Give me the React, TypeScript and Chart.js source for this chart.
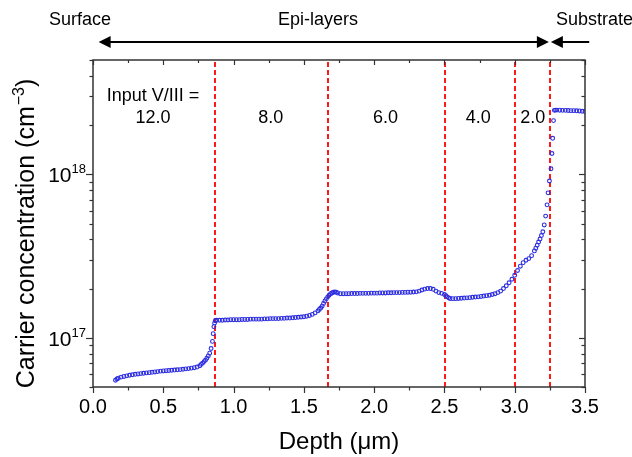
import React, { useEffect, useRef } from "react";
import { Chart, registerables } from "chart.js";

Chart.register(...registerables);

// ---- data (depth in µm, carrier concentration in cm^-3) ----
const d12 = [0.16, 0.17, 0.18, 0.2, 0.22, 0.24, 0.26, 0.28, 0.3, 0.32, 0.34, 0.36, 0.38, 0.4, 0.42, 0.44, 0.46, 0.48, 0.5, 0.52, 0.54, 0.56, 0.58, 0.6, 0.62, 0.64, 0.66, 0.68, 0.7, 0.72, 0.74, 0.76, 0.77, 0.78, 0.79, 0.8, 0.81, 0.82, 0.83, 0.84, 0.85, 0.855, 0.86, 0.865];
const n12 = [5.5e16, 5.6e16, 5.66e16, 5.75e16, 5.8e16, 5.85e16, 5.9e16, 5.94e16, 5.98e16, 6.01e16, 6.04e16, 6.07e16, 6.1e16, 6.12e16, 6.15e16, 6.18e16, 6.21e16, 6.25e16, 6.27e16, 6.29e16, 6.31e16, 6.33e16, 6.35e16, 6.37e16, 6.39e16, 6.42e16, 6.45e16, 6.48e16, 6.52e16, 6.56e16, 6.62e16, 6.75e16, 6.88e16, 7.0e16, 7.15e16, 7.3e16, 7.5e16, 7.75e16, 8.05e16, 8.6e16, 9.5e16, 1.06e17, 1.17e17, 1.23e17];

const d8 = [0.87, 0.88, 0.9, 0.92, 0.94, 0.96, 0.98, 1.0, 1.02, 1.04, 1.06, 1.08, 1.1, 1.12, 1.14, 1.16, 1.18, 1.2, 1.22, 1.24, 1.26, 1.28, 1.3, 1.32, 1.34, 1.36, 1.38, 1.4, 1.42, 1.44, 1.46, 1.48, 1.5, 1.52, 1.54, 1.56, 1.58, 1.6, 1.61, 1.62, 1.63, 1.64, 1.65, 1.66];
const n8 = [1.27e17, 1.28e17, 1.28e17, 1.28e17, 1.285e17, 1.285e17, 1.29e17, 1.29e17, 1.29e17, 1.29e17, 1.295e17, 1.295e17, 1.295e17, 1.3e17, 1.3e17, 1.3e17, 1.3e17, 1.3e17, 1.305e17, 1.305e17, 1.31e17, 1.31e17, 1.31e17, 1.31e17, 1.315e17, 1.315e17, 1.32e17, 1.32e17, 1.325e17, 1.33e17, 1.335e17, 1.34e17, 1.345e17, 1.355e17, 1.37e17, 1.39e17, 1.42e17, 1.46e17, 1.49e17, 1.52e17, 1.56e17, 1.62e17, 1.68e17, 1.73e17];

const d6 = [1.67, 1.68, 1.69, 1.7, 1.71, 1.72, 1.73, 1.74, 1.76, 1.78, 1.8, 1.82, 1.84, 1.86, 1.88, 1.9, 1.92, 1.94, 1.96, 1.98, 2.0, 2.02, 2.04, 2.06, 2.08, 2.1, 2.12, 2.14, 2.16, 2.18, 2.2, 2.22, 2.24, 2.26, 2.28, 2.3, 2.32, 2.34, 2.36, 2.38, 2.4, 2.42, 2.44, 2.46, 2.48];
const n6 = [1.78e17, 1.82e17, 1.86e17, 1.88e17, 1.9e17, 1.91e17, 1.9e17, 1.88e17, 1.86e17, 1.86e17, 1.86e17, 1.86e17, 1.865e17, 1.865e17, 1.865e17, 1.87e17, 1.87e17, 1.87e17, 1.87e17, 1.875e17, 1.875e17, 1.875e17, 1.88e17, 1.88e17, 1.88e17, 1.885e17, 1.885e17, 1.89e17, 1.89e17, 1.89e17, 1.895e17, 1.895e17, 1.9e17, 1.9e17, 1.905e17, 1.91e17, 1.93e17, 1.96e17, 1.985e17, 2.0e17, 2.0e17, 1.98e17, 1.93e17, 1.89e17, 1.87e17];

const d4 = [2.5, 2.51, 2.52, 2.53, 2.54, 2.56, 2.58, 2.6, 2.62, 2.64, 2.66, 2.68, 2.7, 2.72, 2.74, 2.76, 2.78, 2.8, 2.82, 2.84, 2.86, 2.88, 2.9, 2.92, 2.94, 2.96, 2.98];
const n4 = [1.84e17, 1.81e17, 1.78e17, 1.755e17, 1.74e17, 1.735e17, 1.735e17, 1.74e17, 1.745e17, 1.75e17, 1.755e17, 1.76e17, 1.77e17, 1.775e17, 1.78e17, 1.79e17, 1.8e17, 1.81e17, 1.82e17, 1.84e17, 1.86e17, 1.89e17, 1.93e17, 2.0e17, 2.08e17, 2.17e17, 2.28e17];

const d2 = [3.0, 3.02, 3.04, 3.06, 3.08, 3.1, 3.12, 3.14, 3.15, 3.16, 3.17, 3.18, 3.19, 3.2, 3.21, 3.22, 3.23, 3.237, 3.247];
const n2 = [2.41e17, 2.58e17, 2.74e17, 2.88e17, 2.98e17, 3.05e17, 3.18e17, 3.4e17, 3.53e17, 3.68e17, 3.85e17, 4.02e17, 4.22e17, 4.45e17, 4.9e17, 5.55e17, 6.5e17, 7.7e17, 9.1e17];

const dSub = [3.258, 3.265, 3.27, 3.276, 3.282, 3.29, 3.3, 3.32, 3.34, 3.36, 3.38, 3.4, 3.42, 3.44, 3.46, 3.48, 3.5];
const nSub = [1.08e18, 1.34e18, 1.66e18, 2.13e18, 2.46e18, 2.47e18, 2.47e18, 2.465e18, 2.46e18, 2.46e18, 2.455e18, 2.45e18, 2.45e18, 2.445e18, 2.44e18, 2.43e18, 2.42e18];

// layer boundaries (µm) and V/III labels
const layerEdges = [0.868, 1.672, 2.503, 3.0, 3.25];
const ratioLabels = ["12.0", "8.0", "6.0", "4.0", "2.0"];
const ratioLabelX = [0.427, 1.265, 2.08, 2.74, 3.128];
const ratioLabelY = 2.2e18;
const inputLabel = "Input V/III =";
const inputLabelY = 3.0e18;

// axis ranges / ticks
const xMin = 0;
const xMax = 3.5;
const xMajorStep = 0.5;
const xMinorStep = 0.25;
const yMin = 5e16;
const yMax = 5e18;
const yDecades = [1e17, 1e18];
const yDecadeExp = ["17", "18"];
const yMinorTicks = [5e16, 6e16, 7e16, 8e16, 9e16, 2e17, 3e17, 4e17, 5e17, 6e17, 7e17, 8e17, 9e17, 2e18, 3e18, 4e18, 5e18];

// top annotation
const regionNames = ["Surface", "Epi-layers", "Substrate"];
const arrowLeft = 0.04;
const arrowMeet = 3.25;
const arrowRight = 3.53;

const FONT = '"Liberation Sans", Arial, Helvetica, sans-serif';
const BLUE = "rgb(45,45,225)";
const RED = "rgb(255,25,25)";
const AXIS = "#333";

const decor = {
  id: "decor",
  beforeDatasetsDraw(chart: any) {
    const { ctx, chartArea: a, scales } = chart;
    const x = scales.x;
    ctx.save();
    ctx.strokeStyle = RED;
    ctx.lineWidth = 2;
    ctx.setLineDash([5, 3]);
    for (const e of layerEdges) {
      const px = Math.round(x.getPixelForValue(e));
      ctx.beginPath();
      ctx.moveTo(px, a.top + 2);
      ctx.lineTo(px, a.bottom);
      ctx.stroke();
    }
    ctx.restore();
  },
  afterDraw(chart: any) {
    const { ctx, chartArea: a, scales } = chart;
    const x = scales.x;
    const y = scales.y;
    ctx.save();

    // frame
    ctx.strokeStyle = AXIS;
    ctx.lineWidth = 1.5;
    ctx.strokeRect(a.left, a.top, a.right - a.left, a.bottom - a.top);

    const line = (x1: number, y1: number, x2: number, y2: number) => {
      ctx.beginPath();
      ctx.moveTo(x1, y1);
      ctx.lineTo(x2, y2);
      ctx.stroke();
    };

    // x ticks (bottom outward, top inward)
    ctx.lineWidth = 1.2;
    const nX = Math.round((xMax - xMin) / xMinorStep);
    for (let i = 0; i <= nX; i++) {
      const v = xMin + i * xMinorStep;
      const px = Math.round(x.getPixelForValue(v)) + 0.5;
      const major = Math.abs(v / xMajorStep - Math.round(v / xMajorStep)) < 1e-6;
      line(px, a.bottom, px, a.bottom + (major ? 6 : 3.5));
      line(px, a.top, px, a.top + (major ? 5 : 3));
    }
    // y ticks (left outward, right inward)
    for (const v of yDecades) {
      const py = Math.round(y.getPixelForValue(v)) + 0.5;
      line(a.left - 7, py, a.left, py);
      line(a.right - 6, py, a.right, py);
    }
    for (const v of yMinorTicks) {
      const py = Math.round(y.getPixelForValue(v)) + 0.5;
      line(a.left - 3.5, py, a.left, py);
      line(a.right - 3.5, py, a.right, py);
    }

    // y tick labels 10^n
    ctx.fillStyle = "#000";
    ctx.textBaseline = "alphabetic";
    ctx.textAlign = "left";
    yDecades.forEach((v, i) => {
      const py = y.getPixelForValue(v);
      ctx.font = `13px ${FONT}`;
      const wSup = ctx.measureText(yDecadeExp[i]).width;
      ctx.font = `21px ${FONT}`;
      const wBase = ctx.measureText("10").width;
      const right = a.left - 7;
      ctx.fillText("10", right - wSup - wBase, py + 8);
      ctx.font = `13px ${FONT}`;
      ctx.fillText(yDecadeExp[i], right - wSup, py - 1);
    });

    // y title with superscript
    {
      const main = "Carrier concentration (cm";
      const sup = "\u22123";
      const tail = ")";
      const fMain = `25px ${FONT}`;
      const fSup = `16px ${FONT}`;
      ctx.font = fMain;
      const w1 = ctx.measureText(main).width;
      const w3 = ctx.measureText(tail).width;
      ctx.font = fSup;
      const w2 = ctx.measureText(sup).width;
      const total = w1 + w2 + w3;
      ctx.save();
      ctx.translate(34, 234);
      ctx.rotate(-Math.PI / 2);
      ctx.textAlign = "left";
      ctx.textBaseline = "alphabetic";
      ctx.font = fMain;
      ctx.fillText(main, -total / 2, 0);
      ctx.font = fSup;
      ctx.fillText(sup, -total / 2 + w1 + 1, -10);
      ctx.font = fMain;
      ctx.fillText(tail, -total / 2 + w1 + w2 + 1, 0);
      ctx.restore();
    }

    // in-plot labels
    ctx.font = `18px ${FONT}`;
    ctx.textAlign = "center";
    ctx.textBaseline = "middle";
    ctx.fillText(inputLabel, x.getPixelForValue(ratioLabelX[0]), y.getPixelForValue(inputLabelY));
    ratioLabels.forEach((t, i) => {
      ctx.fillText(t, x.getPixelForValue(ratioLabelX[i]), y.getPixelForValue(ratioLabelY));
    });

    // top annotation
    ctx.font = `18px ${FONT}`;
    ctx.textBaseline = "middle";
    ctx.textAlign = "center";
    ctx.fillText(regionNames[0], 80, 20);
    ctx.fillText(regionNames[1], 318, 20);
    ctx.textAlign = "left";
    ctx.fillText(regionNames[2], 556, 20);

    const ay = 42;
    const xl = x.getPixelForValue(arrowLeft);
    const xm = x.getPixelForValue(arrowMeet);
    const xr = x.getPixelForValue(arrowRight);
    ctx.strokeStyle = "#000";
    ctx.fillStyle = "#000";
    ctx.lineWidth = 2;
    line(xl + 8, ay, xm - 8, ay);
    line(xm + 8, ay, xr, ay);
    const head = (tipX: number, dir: number) => {
      ctx.beginPath();
      ctx.moveTo(tipX, ay);
      ctx.lineTo(tipX + dir * 12, ay - 6);
      ctx.lineTo(tipX + dir * 12, ay + 6);
      ctx.closePath();
      ctx.fill();
    };
    head(xl, 1);
    head(xm - 1, -1);
    head(xm + 1, 1);

    ctx.restore();
  },
};

export default function App() {
  const ref = useRef<HTMLCanvasElement>(null);
  useEffect(() => {
    document.body.style.margin = "0";
    const canvas = ref.current;
    if (!canvas) return;
    const depth = [...d12, ...d8, ...d6, ...d4, ...d2, ...dSub];
    const conc = [...n12, ...n8, ...n6, ...n4, ...n2, ...nSub];
    const points = depth.map((d, i) => ({ x: d, y: conc[i] }));

    const chart = new Chart(canvas, {
      type: "scatter",
      data: {
        datasets: [
          {
            data: points,
            showLine: false,
            pointStyle: "circle",
            pointRadius: 1.9,
            pointHoverRadius: 1.9,
            pointBorderWidth: 1.1,
            pointBorderColor: BLUE,
            pointBackgroundColor: "rgba(0,0,0,0)",
          },
        ],
      },
      options: {
        responsive: false,
        animation: false,
        devicePixelRatio: 1,
        events: [],
        layout: { padding: { left: 0, right: 47, top: 60, bottom: 0 } },
        plugins: { legend: { display: false }, tooltip: { enabled: false } },
        scales: {
          x: {
            type: "linear",
            position: "bottom",
            min: xMin,
            max: xMax,
            afterFit(s: any) {
              s.height = 70;
            },
            ticks: {
              stepSize: xMajorStep,
              callback: (v: any) => Number(v).toFixed(1),
              color: "#000",
              font: { family: FONT, size: 20 },
              padding: 8,
              maxRotation: 0,
              autoSkip: false,
            },
            grid: { display: false, drawTicks: false },
            border: { display: false },
            title: {
              display: true,
              text: "Depth (\u03bcm)",
              color: "#000",
              font: { family: FONT, size: 24 },
              padding: { top: 0, bottom: 0 },
            },
          },
          y: {
            type: "logarithmic",
            min: yMin,
            max: yMax,
            afterFit(s: any) {
              s.width = 93;
            },
            ticks: { display: false },
            grid: { display: false, drawTicks: false },
            border: { display: false },
          },
        },
      },
      plugins: [decor],
    } as any);
    return () => chart.destroy();
  }, []);

  return (
    <div style={{ width: 632, height: 457 }}>
      <canvas ref={ref} width={632} height={457} style={{ display: "block", width: 632, height: 457 }} />
    </div>
  );
}
